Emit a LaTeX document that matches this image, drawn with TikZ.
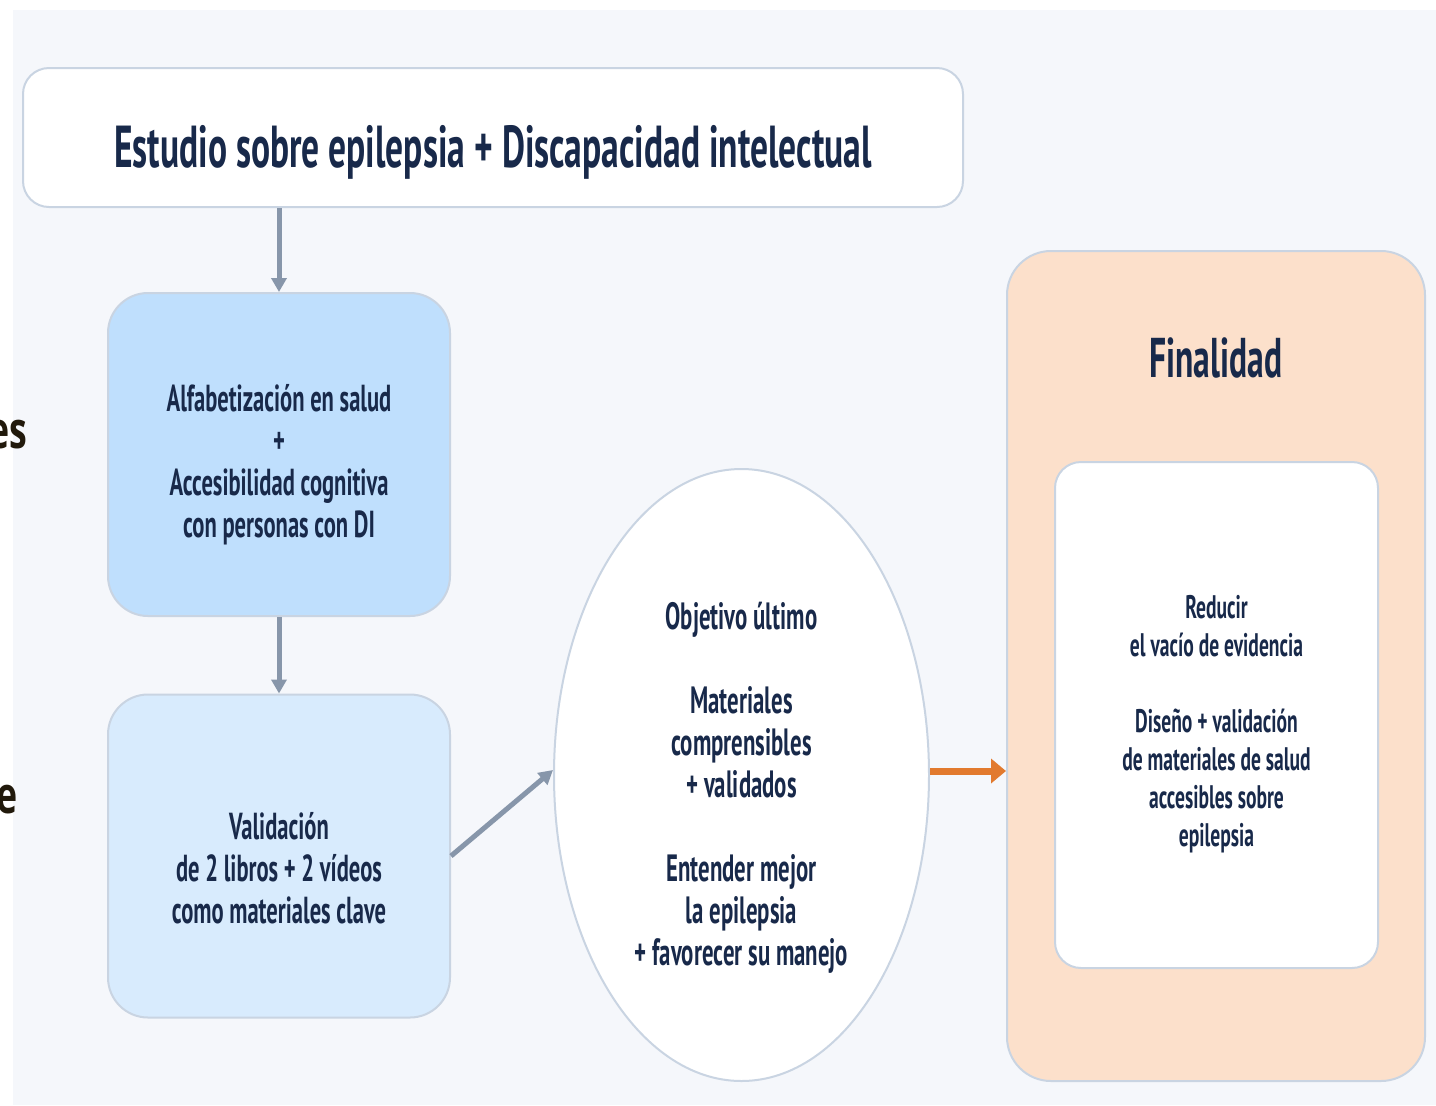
\documentclass[tikz,border=0pt]{standalone}
\usepackage{fontspec}
\setmainfont{PT Sans}[FakeStretch=0.6]
\newfontfamily\fragfont{Open Sans}[FakeStretch=0.7]
\usetikzlibrary{arrows.meta,shapes.geometric}
\definecolor{bgc}{HTML}{F5F7FB}
\definecolor{edgec}{HTML}{C9D4E2}
\definecolor{inkc}{HTML}{18294A}
\definecolor{bluea}{HTML}{BFDFFD}
\definecolor{blueb}{HTML}{D8EBFD}
\definecolor{peach}{HTML}{FCE0CB}
\definecolor{flowc}{HTML}{8796AA}
\definecolor{orangec}{HTML}{E27A2E}
\definecolor{fragc}{HTML}{21190B}
\tikzset{
  card/.style={draw=edgec, line width=1pt, rounded corners=20pt},
  txt/.style={align=center, text=inkc, inner sep=0},
  frag/.style={anchor=base east, inner sep=0, text=fragc, font=\fragfont\bfseries\fontsize{25.5}{25}\selectfont},
  flow/.style={draw=flowc, line width=2.5pt, -{Triangle[length=7pt,width=7.5pt]}},
}
\begin{document}
\begin{tikzpicture}[x=0.5pt,y=-0.5pt]
  \useasboundingbox (0,0) rectangle (1436,1105);
  \fill[bgc] (13,10) rectangle (1436,1105);
  % left edge fragments
  \node[frag] (fraga) at (28,448) {es};
  \node[frag] (fragb) at (18,813) {e};
  % shapes
  \node[card, fill=white, rounded corners=13pt, minimum width=470pt, minimum height=69.5pt] (study) at (493,137.5) {};
  \node[card, fill=bluea, minimum width=171pt, minimum height=161.5pt] (health) at (279,454.5) {};
  \node[card, fill=blueb, minimum width=171pt, minimum height=161.5pt] (valid) at (279,856) {};
  \node[card, ellipse, fill=white, minimum width=187.5pt, minimum height=306pt] (goal) at (741.5,775) {};
  \node[card, fill=peach, rounded corners=22pt, minimum width=209pt, minimum height=415pt] (fin) at (1216,666) {};
  \node[card, fill=white, rounded corners=13pt, minimum width=161.5pt, minimum height=253pt] (finbody) at (1216.5,715) {};
  % texts
  \node[txt, font=\bfseries\fontsize{29.6}{32}\selectfont] (studytext) at (493,152)
    {Estudio sobre epilepsia + Discapacidad intelectual};
  \node[txt, font=\bfseries\fontsize{18.8}{21}\selectfont] (healthtext) at (279,465)
    {Alfabetización en salud\\+\\Accesibilidad cognitiva\\con personas con DI};
  \node[txt, font=\bfseries\fontsize{18.8}{21}\selectfont] (validtext) at (279,868)
    {Validación\\de 2 libros + 2 vídeos\\como materiales clave};
  \node[txt, font=\bfseries\fontsize{19}{21}\selectfont] (goaltext) at (741.5,788)
    {Objetivo último\\[21pt]Materiales\\comprensibles\\+ validados\\[21pt]Entender mejor\\la epilepsia\\+ favorecer su manejo};
  \node[txt, font=\bfseries\fontsize{28}{32}\selectfont] (fintitle) at (1216,358) {Finalidad};
  \node[txt, font=\bfseries\fontsize{16.3}{19}\selectfont] (finbodytext) at (1216.5,724)
    {Reducir\\el vacío de evidencia\\[19pt]Diseño + validación\\de materiales de salud\\accesibles sobre\\epilepsia};
  % connectors
  \begin{scope}[flow]
    \draw (study.south -| health.north) to (health.north);
    \draw (health) to (valid);
    \draw (valid.east) to ([yshift=2.5pt]goal.west);
  \end{scope}
  \draw[draw=orangec, line width=3.5pt, -{Triangle[length=7.5pt,width=12pt]}] ([yshift=2pt]goal.east) to ([yshift=2pt]goal.east -| fin.west);
\end{tikzpicture}
\end{document}
